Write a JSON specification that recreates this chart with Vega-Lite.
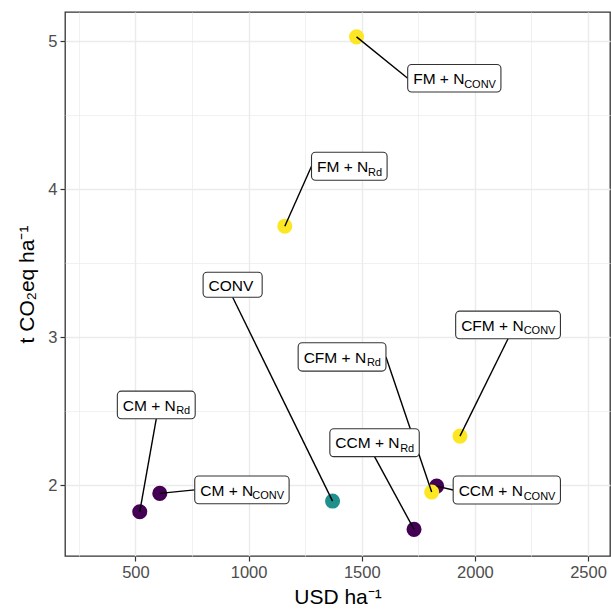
{
  "$schema": "https://vega.github.io/schema/vega-lite/v6.json",
  "width": 545,
  "height": 544,
  "autosize": {"type": "none"},
  "padding": {"left": 65, "top": 12, "right": 1, "bottom": 59},
  "background": "white",
  "config": {
    "view": {"stroke": "#333333", "strokeWidth": 1.3},
    "font": "Liberation Sans"
  },
  "data": {
    "values": [
      {"treatment": "CM+NRd", "main": "CM + N", "sub": "Rd", "group": "CM", "x": 519, "y": 1.822, "bx1": 420, "bx2": 764, "ytop": 2.637, "ybot": 2.45, "side": "bottom"},
      {"treatment": "CM+NCONV", "main": "CM + N", "sub": "CONV", "group": "CM", "x": 607.5, "y": 1.946, "bx1": 762, "bx2": 1179, "ytop": 2.063, "ybot": 1.876, "side": "left"},
      {"treatment": "CONV", "main": "CONV", "sub": "", "group": "CONV", "x": 1371, "y": 1.894, "bx1": 799, "bx2": 1060, "ytop": 3.44, "ybot": 3.271, "side": "bottom"},
      {"treatment": "FM+NRd", "main": "FM + N", "sub": "Rd", "group": "FM", "x": 1160, "y": 3.751, "bx1": 1278, "bx2": 1612, "ytop": 4.251, "ybot": 4.061, "side": "left"},
      {"treatment": "FM+NCONV", "main": "FM + N", "sub": "CONV", "group": "FM", "x": 1477, "y": 5.03, "bx1": 1703, "bx2": 2115, "ytop": 4.843, "ybot": 4.658, "side": "left"},
      {"treatment": "CCM+NRd", "main": "CCM + N", "sub": "Rd", "group": "CM", "x": 1731, "y": 1.703, "bx1": 1359, "bx2": 1754, "ytop": 2.383, "ybot": 2.194, "side": "bottom"},
      {"treatment": "CCM+NCONV", "main": "CCM + N", "sub": "CONV", "group": "CM", "x": 1831, "y": 1.995, "bx1": 1904, "bx2": 2378, "ytop": 2.063, "ybot": 1.874, "side": "left"},
      {"treatment": "CFM+NRd", "main": "CFM + N", "sub": "Rd", "group": "FM", "x": 1809, "y": 1.955, "bx1": 1219, "bx2": 1607, "ytop": 2.964, "ybot": 2.772, "side": "right"},
      {"treatment": "CFM+NCONV", "main": "CFM + N", "sub": "CONV", "group": "FM", "x": 1934, "y": 2.333, "bx1": 1915, "bx2": 2378, "ytop": 3.177, "ybot": 2.991, "side": "bottom"}
    ]
  },
  "transform": [
    {"calculate": "(datum.ytop + datum.ybot) / 2", "as": "ymid"},
    {"calculate": "datum.side === 'left' ? datum.bx1 : (datum.side === 'right' ? datum.bx2 : (datum.bx1 + datum.bx2) / 2)", "as": "ex"},
    {"calculate": "datum.side === 'bottom' ? datum.ybot : (datum.ytop + datum.ybot) / 2", "as": "ey"}
  ],
  "encoding": {
    "x": {
      "field": "x", "type": "quantitative",
      "scale": {"domain": [188.7, 2597], "nice": false, "zero": false},
      "axis": {
        "values": [250, 500, 750, 1000, 1250, 1500, 1750, 2000, 2250, 2500],
        "format": "d",
        "labelExpr": "datum.value % 500 === 0 ? datum.label : ''",
        "labelOverlap": false,
        "labelFlush": false,
        "labelFont": "Liberation Sans",
        "labelFontSize": 16.5,
        "labelColor": "#4D4D4D",
        "labelPadding": 3,
        "domain": false,
        "grid": true,
        "gridColor": "#EBEBEB",
        "gridWidth": {"condition": {"test": "datum.value % 500 === 0", "value": 1.4}, "value": 0.7},
        "tickColor": "#333333",
        "tickWidth": 1.2,
        "tickSize": 5,
        "tickOpacity": {"condition": {"test": "datum.value % 500 === 0", "value": 1}, "value": 0},
        "title": "USD ha⁻¹",
        "titleFont": "Liberation Sans",
        "titleFontSize": 21,
        "titleFontWeight": "normal",
        "titleColor": "#000000",
        "titlePadding": 6
      }
    },
    "y": {
      "field": "y", "type": "quantitative",
      "scale": {"domain": [1.523, 5.198], "nice": false, "zero": false},
      "axis": {
        "values": [2, 2.5, 3, 3.5, 4, 4.5, 5],
        "labelExpr": "datum.value % 1 === 0 ? format(datum.value, 'd') : ''",
        "labelOverlap": false,
        "labelFont": "Liberation Sans",
        "labelFontSize": 16.5,
        "labelColor": "#4D4D4D",
        "labelPadding": 3,
        "domain": false,
        "grid": true,
        "gridColor": "#EBEBEB",
        "gridWidth": {"condition": {"test": "datum.value % 1 === 0", "value": 1.4}, "value": 0.7},
        "tickColor": "#333333",
        "tickWidth": 1.2,
        "tickSize": 5,
        "tickOpacity": {"condition": {"test": "datum.value % 1 === 0", "value": 1}, "value": 0},
        "title": "t CO₂eq ha⁻¹",
        "titleFont": "Liberation Sans",
        "titleFontSize": 21,
        "titleFontWeight": "normal",
        "titleColor": "#000000",
        "titlePadding": 10
      }
    }
  },
  "layer": [
    {
      "mark": {"type": "circle", "size": 227, "opacity": 1},
      "encoding": {
        "color": {
          "field": "group", "type": "nominal",
          "scale": {"domain": ["CM", "CONV", "FM"], "range": ["#440154", "#21908C", "#FDE725"]},
          "legend": null
        }
      }
    },
    {
      "mark": {"type": "rule", "color": "#000000", "strokeWidth": 1.4},
      "encoding": {
        "x2": {"field": "ex"},
        "y2": {"field": "ey"}
      }
    },
    {
      "mark": {"type": "rect", "fill": "#FFFFFF", "stroke": "#333333", "strokeWidth": 1.1, "cornerRadius": 4},
      "encoding": {
        "x": {"field": "bx1", "type": "quantitative"},
        "x2": {"field": "bx2"},
        "y": {"field": "ytop", "type": "quantitative"},
        "y2": {"field": "ybot"}
      }
    },
    {
      "mark": {"type": "text", "align": "left", "baseline": "alphabetic", "dx": 5.5, "dy": 5.8, "fontSize": 15.5, "color": "#000000", "font": "Liberation Sans"},
      "encoding": {
        "x": {"field": "bx1", "type": "quantitative"},
        "y": {"field": "ymid", "type": "quantitative"},
        "text": {"field": "main"}
      }
    },
    {
      "mark": {"type": "text", "align": "right", "baseline": "alphabetic", "dx": -5, "dy": 9.5, "fontSize": 11, "color": "#000000", "font": "Liberation Sans"},
      "encoding": {
        "x": {"field": "bx2", "type": "quantitative"},
        "y": {"field": "ymid", "type": "quantitative"},
        "text": {"field": "sub"}
      }
    }
  ]
}
